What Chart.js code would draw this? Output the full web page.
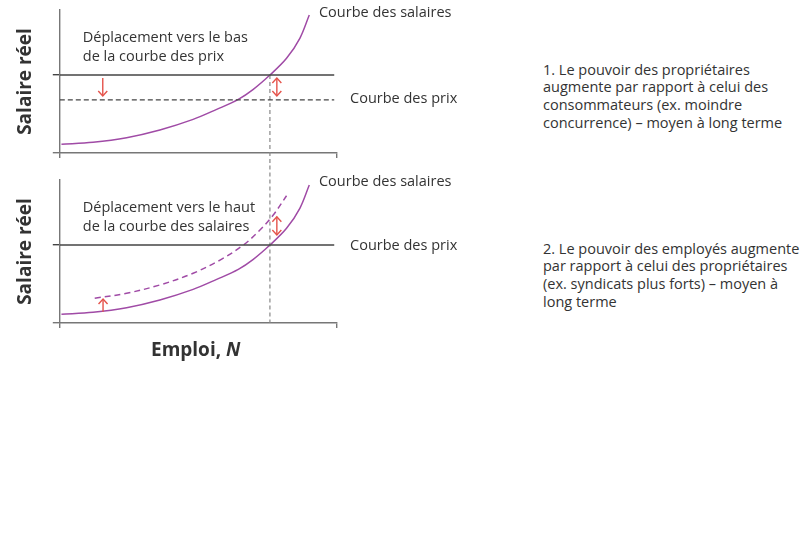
<!DOCTYPE html>
<html lang="fr">
<head>
<meta charset="utf-8">
<title>Courbe des salaires et courbe des prix</title>
<script src="https://cdn.jsdelivr.net/npm/chart.js@4.4.1/dist/chart.umd.min.js"></script>
<style>
  body { margin: 0; background: #fff; font-family: "Open Sans", sans-serif; color: #333; }
  #page { position: relative; width: 810px; height: 538px; overflow: hidden; }
  canvas { position: absolute; left: 0; }
  .note { position: absolute; left: 543px; font-size: 14.5px; line-height: 17.8px; white-space: nowrap; }
  #xTitle { position: absolute; left: 151px; top: 340px; font-weight: bold; font-size: 19px; line-height: 19px; }
</style>
</head>
<body>
<div id="page">
  <canvas id="topChart" width="470" height="165" style="top:0"></canvas>
  <canvas id="bottomChart" width="470" height="200" style="top:165px"></canvas>
  <div id="xTitle">Emploi, <i>N</i></div>
  <div class="note" style="top:60.5px">1. Le pouvoir des propriétaires<br>augmente par rapport à celui des<br>consommateurs (ex. moindre<br>concurrence) – moyen à long terme</div>
  <div class="note" style="top:239.5px">2. Le pouvoir des employés augmente<br>par rapport à celui des propriétaires<br>(ex. syndicats plus forts) – moyen à<br>long terme</div>
</div>

<script>
// -------------------------
// Données
// -------------------------

// courbe des salaires (emploi N, salaire réel W)
const wageN = [0.6, 12.0, 24.1, 36.1, 48.1, 56.6, 64.4, 69.8, 75.8, 81.8, 86.6, 90.0];
const wageW = [6.1, 7.5, 10.7, 16.1, 23.5, 30.5, 37.5, 44.5, 54.5, 66.2, 80.2, 96.5];

// courbe des salaires déplacée vers le haut (panneau 2)
const shiftedN = [12.6, 24.1, 36.1, 48.1, 57.8, 66.2, 72.2, 77.0, 81.8];
const shiftedW = [17.3, 20.8, 26.6, 34.8, 44.0, 54.5, 65.0, 75.5, 89.0];

// courbes des prix (horizontales)
const priceLevel = 54.5;
const lowerPriceLevel = 37.1;
const priceLineN = [0, 99];

// emploi d'équilibre
const equilibriumN = 75.8;

// bornes des axes
const nRange = [0, 100];
const wRange = [0, 100];
// -------------------------

const purple = "#a04ba6";
const red = "#e5534b";
const ink = "#333";
const axisGray = "#777";
const font = '"Open Sans", sans-serif';

const toPoints = (xs, ys) => xs.map((x, i) => ({ x: x, y: ys[i] }));
const flatLine = (level) => priceLineN.map((x) => ({ x: x, y: level }));

// textes et flèches dessinés avec les échelles du graphique
const notesPlugin = {
  id: "notes",
  afterDatasetsDraw(chart, args, opts) {
    const { ctx, scales } = chart;
    const sx = scales.x, sy = scales.y;
    ctx.save();
    ctx.fillStyle = ink;
    ctx.font = "14.5px " + font;
    ctx.textBaseline = "alphabetic";
    (opts.texts || []).forEach((t) => {
      t.lines.forEach((line, i) => {
        ctx.fillText(line, sx.getPixelForValue(t.n), sy.getPixelForValue(t.w) + i * 18.5);
      });
    });

    ctx.strokeStyle = red;
    ctx.lineWidth = 1.4;
    (opts.arrows || []).forEach((a) => {
      const x = sx.getPixelForValue(a.n);
      const y1 = sy.getPixelForValue(a.from);
      const y2 = sy.getPixelForValue(a.to);
      const head = (y, dir) => {
        ctx.beginPath();
        ctx.moveTo(x - 4.5, y - dir * 5);
        ctx.lineTo(x, y);
        ctx.lineTo(x + 4.5, y - dir * 5);
        ctx.stroke();
      };
      ctx.beginPath();
      ctx.moveTo(x, y1);
      ctx.lineTo(x, y2);
      ctx.stroke();
      const dir = y2 > y1 ? 1 : -1;
      head(y2, dir);
      if (a.both) head(y1, -dir);
    });
    ctx.restore();
  }
};

function makeScales() {
  return {
    x: {
      type: "linear",
      min: nRange[0],
      max: nRange[1],
      afterBuildTicks: (s) => { s.ticks = nRange.map((v) => ({ value: v })); },
      ticks: { display: false },
      grid: { drawOnChartArea: false, drawTicks: true, tickLength: 5, color: axisGray, lineWidth: 1.4 },
      border: { color: axisGray, width: 1.4 }
    },
    y: {
      type: "linear",
      min: wRange[0],
      max: wRange[1],
      afterBuildTicks: (s) => { s.ticks = [wRange[0], priceLevel].map((v) => ({ value: v })); },
      ticks: { display: false },
      grid: {
        drawOnChartArea: false,
        drawTicks: true,
        tickLength: 7,
        color: (c) => (c.tick && c.tick.value === priceLevel ? "#444" : axisGray),
        lineWidth: 1.4
      },
      border: { color: axisGray, width: 1.4 },
      title: {
        display: true,
        text: "Salaire réel",
        color: ink,
        font: { family: font, weight: "bold", size: 19, lineHeight: 1.2 },
        padding: { top: 4, bottom: 16 }
      }
    }
  };
}

const baseOptions = (padding, notes) => ({
  responsive: false,
  animation: false,
  layout: { padding: padding },
  elements: { point: { radius: 0, hoverRadius: 0 } },
  plugins: { legend: { display: false }, tooltip: { enabled: false }, notes: notes },
  scales: makeScales()
});

const wageLine = (data, dashed) => ({
  data: data,
  showLine: true,
  borderColor: purple,
  borderWidth: 1.5,
  borderDash: dashed ? [6, 4] : [],
  tension: 0.35,
  fill: false
});

// Panneau 1 : déplacement vers le bas de la courbe des prix
new Chart(document.getElementById("topChart"), {
  type: "scatter",
  data: {
    datasets: [
      { data: flatLine(priceLevel), showLine: true, borderColor: "#444", borderWidth: 1.4 },
      { data: flatLine(lowerPriceLevel), showLine: true, borderColor: "#444", borderWidth: 1.3, borderDash: [5, 3] },
      {
        data: [{ x: equilibriumN, y: priceLevel }, { x: equilibriumN, y: -15 }],
        showLine: true, borderColor: "#888", borderWidth: 1.2, borderDash: [4, 3], clip: false
      },
      wageLine(toPoints(wageN, wageW), false)
    ]
  },
  options: baseOptions({ left: 10, top: 10, right: 133, bottom: 7 }, {
    texts: [
      { n: 93.5, w: 95.1, lines: ["Courbe des salaires"] },
      { n: 104.7, w: 35.0, lines: ["Courbe des prix"] },
      { n: 8.3, w: 77.6, lines: ["Déplacement vers le bas", "de la courbe des prix"] }
    ],
    arrows: [
      { n: 15.5, from: 52.4, to: 39.9, both: false },
      { n: 78.3, from: 52.4, to: 39.9, both: true }
    ]
  }),
  plugins: [notesPlugin]
});

// Panneau 2 : déplacement vers le haut de la courbe des salaires
new Chart(document.getElementById("bottomChart"), {
  type: "scatter",
  data: {
    datasets: [
      { data: flatLine(priceLevel), showLine: true, borderColor: "#444", borderWidth: 1.4 },
      {
        data: [{ x: equilibriumN, y: 120 }, { x: equilibriumN, y: wRange[0] }],
        showLine: true, borderColor: "#888", borderWidth: 1.2, borderDash: [4, 3], clip: false
      },
      wageLine(toPoints(shiftedN, shiftedW), true),
      wageLine(toPoints(wageN, wageW), false)
    ]
  },
  options: baseOptions({ left: 10, top: 15, right: 133, bottom: 37 }, {
    texts: [
      { n: 93.5, w: 95.8, lines: ["Courbe des salaires"] },
      { n: 104.7, w: 51.0, lines: ["Courbe des prix"] },
      { n: 8.3, w: 77.6, lines: ["Déplacement vers le haut", "de la courbe des salaires"] }
    ],
    arrows: [
      { n: 15.6, from: 7.9, to: 16.8, both: false },
      { n: 78.3, from: 74.3, to: 61.5, both: true }
    ]
  }),
  plugins: [notesPlugin]
});
</script>
</body>
</html>
